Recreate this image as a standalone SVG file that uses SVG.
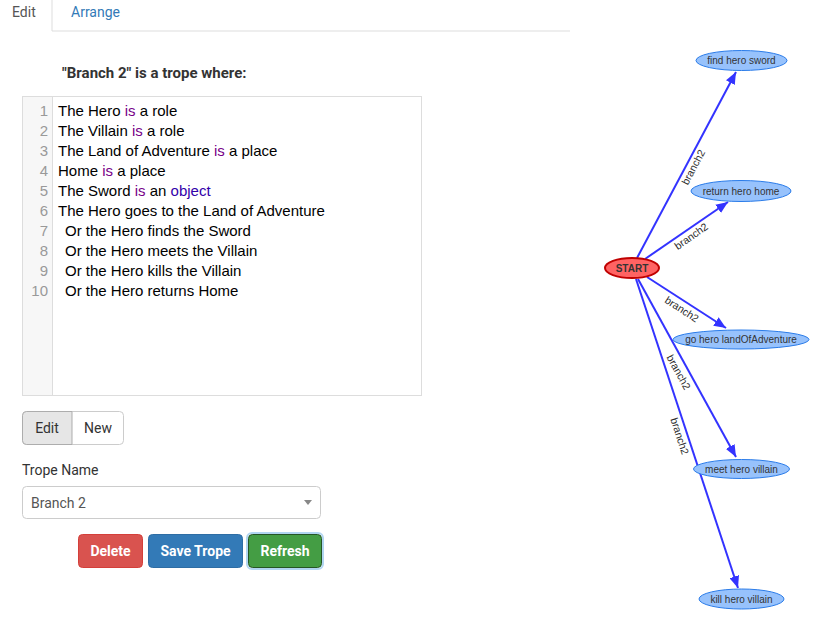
<svg xmlns="http://www.w3.org/2000/svg" width="831" height="637" viewBox="0 0 831 637">
<defs>
<style>
.ui{font-family:Roboto,"Liberation Sans",Arial,sans-serif;font-size:14px;}
.code{font-family:"Liberation Sans",Arial,sans-serif;font-size:15px;fill:#000;}
.ln{font-family:"Liberation Sans",Arial,sans-serif;font-size:15px;fill:#999;text-anchor:end;}
.kw{fill:#770088;}
.atom{fill:#3300aa;}
.btn{font-family:Roboto,"Liberation Sans",Arial,sans-serif;font-size:14px;font-weight:bold;fill:#fff;text-anchor:middle;}
.node ellipse{fill:#97c2fc;stroke:#2b7ce9;stroke-width:1;}
.node text{font-family:Arial,"Liberation Sans",sans-serif;font-size:10px;fill:#343434;text-anchor:middle;dominant-baseline:central;}
.edge{stroke:#3333ff;stroke-width:2;fill:none;marker-end:url(#arr);}
.elabel{font-family:Arial,"Liberation Sans",sans-serif;font-size:10.5px;fill:#2a2a2a;text-anchor:middle;dominant-baseline:central;}
</style>
<marker id="arr" markerUnits="userSpaceOnUse" markerWidth="13" markerHeight="10" refX="12" refY="5" orient="auto">
<path d="M0,0 L12,5 L0,10 z" fill="#3333ff"/>
</marker>
</defs>
<rect width="831" height="637" fill="#fff"/>

<g id="tabs">
<path d="M52,0 V31 H570" stroke="#ddd" stroke-width="1" fill="none"/>
<text class="ui" x="12" y="17" fill="#555">Edit</text>
<text class="ui" x="71" y="17" fill="#337ab7">Arrange</text>
</g>

<g id="title">
<text class="ui" x="62" y="78" font-weight="bold" fill="#333" style="font-size:15px">"Branch 2" is a trope where:</text>
</g>

<g id="editor">
<rect x="22.5" y="96.5" width="399" height="299" fill="#fff" stroke="#ddd"/>
<rect x="23" y="97" width="29" height="298" fill="#f7f7f7"/>
<line x1="52.5" y1="97" x2="52.5" y2="395" stroke="#ddd"/>
<text class="ln" x="48" y="116">1</text>
<text class="ln" x="48" y="136">2</text>
<text class="ln" x="48" y="156">3</text>
<text class="ln" x="48" y="176">4</text>
<text class="ln" x="48" y="196">5</text>
<text class="ln" x="48" y="216">6</text>
<text class="ln" x="48" y="236">7</text>
<text class="ln" x="48" y="256">8</text>
<text class="ln" x="48" y="276">9</text>
<text class="ln" x="48" y="296">10</text>
<text class="code" x="58" y="116">The Hero <tspan class="kw">is</tspan> a role</text>
<text class="code" x="58" y="136">The Villain <tspan class="kw">is</tspan> a role</text>
<text class="code" x="58" y="156">The Land of Adventure <tspan class="kw">is</tspan> a place</text>
<text class="code" x="58" y="176">Home <tspan class="kw">is</tspan> a place</text>
<text class="code" x="58" y="196">The Sword <tspan class="kw">is</tspan> an <tspan class="atom">object</tspan></text>
<text class="code" x="58" y="216">The Hero goes to the Land of Adventure</text>
<text class="code" x="65" y="236">Or the Hero finds the Sword</text>
<text class="code" x="65" y="256">Or the Hero meets the Villain</text>
<text class="code" x="65" y="276">Or the Hero kills the Villain</text>
<text class="code" x="65" y="296">Or the Hero returns Home</text>
</g>

<g id="mode-buttons">
<rect x="22.5" y="411.5" width="101" height="33" rx="4" fill="#fff" stroke="#ccc"/>
<path d="M26.5,411.5 H72 V444.5 H26.5 A4,4 0 0 1 22.5,440.5 V415.5 A4,4 0 0 1 26.5,411.5 z" fill="#e6e6e6" stroke="#adadad"/>
<text class="ui" x="47" y="433" text-anchor="middle" fill="#333">Edit</text>
<text class="ui" x="98" y="433" text-anchor="middle" fill="#333">New</text>
</g>

<g id="trope-name">
<text class="ui" x="22" y="475" fill="#333">Trope Name</text>
<rect x="22.5" y="486.5" width="298" height="32" rx="4" fill="#fff" stroke="#ccc"/>
<text class="ui" x="31" y="508" fill="#555">Branch 2</text>
<path d="M304,500 H312 L308,505 z" fill="#888"/>
</g>

<g id="action-buttons">
<rect x="78.5" y="534.5" width="64" height="33" rx="4" fill="#d9534f" stroke="#d43f3a"/>
<text class="btn" x="110.5" y="556">Delete</text>
<rect x="148.5" y="534.5" width="94" height="33" rx="4" fill="#337ab7" stroke="#2e6da4"/>
<text class="btn" x="195.5" y="556">Save Trope</text>
<rect x="247" y="533" width="76" height="36" rx="5" fill="none" stroke="#9ecaed" stroke-width="2" opacity="0.8"/>
<rect x="248.5" y="534.5" width="73" height="33" rx="4" fill="#449d44" stroke="#255625"/>
<text class="btn" x="285" y="556">Refresh</text>
</g>

<g id="connectors">
<line class="edge" x1="637" y1="258" x2="736" y2="72"/>
<line class="edge" x1="645" y1="259" x2="728" y2="202"/>
<line class="edge" x1="647" y1="277" x2="726" y2="328"/>
<line class="edge" x1="638" y1="279" x2="736" y2="457"/>
<line class="edge" x1="636" y1="279" x2="738" y2="588"/>
<text class="elabel" transform="translate(693,167) rotate(-62)">branch2</text>
<text class="elabel" transform="translate(691,236) rotate(-35)">branch2</text>
<text class="elabel" transform="translate(682,309) rotate(33)">branch2</text>
<text class="elabel" transform="translate(679,372) rotate(61)">branch2</text>
<text class="elabel" transform="translate(680,436) rotate(72)">branch2</text>
</g>

<g id="node-start" class="node">
<ellipse cx="632" cy="268" rx="27" ry="10" style="fill:#ff6363;stroke:#c00000;stroke-width:2"/>
<text x="632" y="268" style="font-weight:bold">START</text>
</g>
<g id="node-find-hero-sword" class="node">
<ellipse cx="741.5" cy="60.5" rx="45.5" ry="10"/>
<text x="741.5" y="60.5">find hero sword</text>
</g>
<g id="node-return-hero-home" class="node">
<ellipse cx="741" cy="191" rx="50" ry="10.5"/>
<text x="741" y="191">return hero home</text>
</g>
<g id="node-go-hero-landofadventure" class="node">
<ellipse cx="741" cy="339.5" rx="68" ry="9.5"/>
<text x="741" y="339.5">go hero landOfAdventure</text>
</g>
<g id="node-meet-hero-villain" class="node">
<ellipse cx="741.5" cy="469" rx="48" ry="9.5"/>
<text x="741.5" y="469">meet hero villain</text>
</g>
<g id="node-kill-hero-villain" class="node">
<ellipse cx="741.5" cy="599" rx="42.5" ry="10"/>
<text x="741.5" y="599">kill hero villain</text>
</g>
</svg>
